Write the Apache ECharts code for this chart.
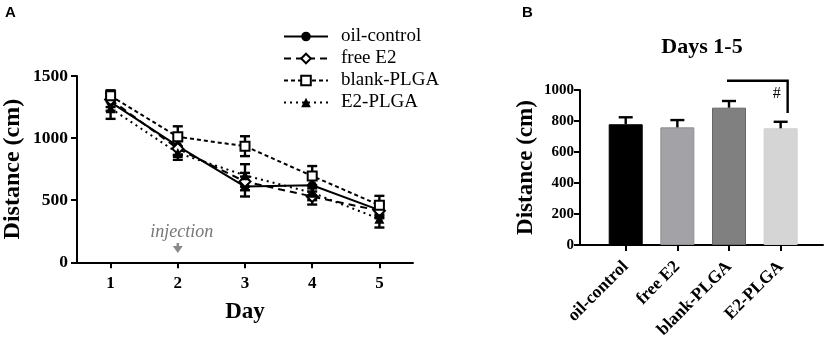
<!DOCTYPE html>
<html><head><meta charset="utf-8">
<script src="https://cdn.jsdelivr.net/npm/echarts@6/dist/echarts.min.js"></script>
<style>html,body{margin:0;padding:0;background:#fff}#c{width:829px;height:342px}</style>
</head><body><div id="c"></div>
<script>
// ---- Panel A data ----
const days = ['1', '2', '3', '4', '5'];
const seriesNames = ['oil-control', 'free E2', 'blank-PLGA', 'E2-PLGA'];
const oilMean = [1290, 935, 610, 620, 420];
const oilErr = [70, 70, 80, 50, 50];
const freeMean = [1310, 915, 650, 530, 415];
const freeErr = [60, 60, 70, 65, 60];
const blankMean = [1340, 1010, 935, 695, 460];
const blankErr = [45, 85, 80, 80, 75];
const e2Mean = [1240, 880, 700, 560, 350];
const e2Err = [85, 55, 90, 60, 70];
const yTicksA = { min: 0, max: 1500, interval: 500 };
const injectionDay = '2';

// ---- Panel B data ----
const barCats = ['oil-control', 'free E2', 'blank-PLGA', 'E2-PLGA'];
const barMean = [779, 759, 886, 753];
const barErr = [45, 47, 43, 42];
const yTicksB = { min: 0, max: 1000, interval: 200 };
const sigPair = ['blank-PLGA', 'E2-PLGA'];
const sigLevels = [1060, 852];
const sigMarkLevel = 978;

const serif = '"Liberation Serif", "Times New Roman", serif';
const barColors = ['#000000', '#a3a3a7', '#808080', '#d5d5d5'];
const barBorders = ['#000000', '#8e8e92', '#666666', '#cfcfcf'];

const means = [oilMean, freeMean, blankMean, e2Mean];
const errs = [oilErr, freeErr, blankErr, e2Err];
const symbols = ['circle', 'diamond', 'rect', 'triangle'];
const symSizes = [9, 11, 9, 10];
const filled = [true, false, false, true];
const dashes = ['solid', [7, 5], [4, 3], [2, 4]];

const barPos = barCats.map((c, i) => i + 1);

function errBarRender(capHalf, upOnly) {
  return function (params, api) {
    const x = api.value(0);
    const lo = api.coord([x, api.value(1)]);
    const hi = api.coord([x, api.value(2)]);
    const st = { stroke: '#000', lineWidth: 2.4 };
    const ch = [
      { type: 'line', shape: { x1: hi[0], y1: hi[1], x2: lo[0], y2: lo[1] }, style: st },
      { type: 'line', shape: { x1: hi[0] - capHalf, y1: hi[1], x2: hi[0] + capHalf, y2: hi[1] }, style: st }
    ];
    if (!upOnly) ch.push({ type: 'line', shape: { x1: lo[0] - capHalf, y1: lo[1], x2: lo[0] + capHalf, y2: lo[1] }, style: st });
    return { type: 'group', children: ch };
  };
}

const series = [];
means.forEach((m, i) => {
  series.push({
    type: 'custom', xAxisIndex: 0, yAxisIndex: 0, z: 1,
    renderItem: errBarRender(5, false),
    encode: { x: 0, y: [1, 2] },
    data: m.map((v, j) => [j, v - errs[i][j], v + errs[i][j]]),
    silent: true
  });
});
means.forEach((m, i) => {
  series.push({
    type: 'line', name: seriesNames[i], xAxisIndex: 0, yAxisIndex: 0, z: 3,
    data: m,
    symbol: symbols[i], symbolSize: symSizes[i],
    lineStyle: { color: '#000', width: 2, type: dashes[i] },
    itemStyle: { color: filled[i] ? '#000' : '#fff', borderColor: '#000', borderWidth: filled[i] ? 0 : 2 },
    animation: false
  });
});
// injection annotation
series.push({
  type: 'custom', xAxisIndex: 0, yAxisIndex: 0, z: 4, silent: true,
  data: [[days.indexOf(injectionDay), 245, 155, 75]],
  renderItem: function (params, api) {
    const t = api.coord([api.value(0), api.value(1)]);
    const a1 = api.coord([api.value(0), api.value(2)]);
    const a2 = api.coord([api.value(0), api.value(3)]);
    return {
      type: 'group', children: [
        { type: 'text', style: { x: t[0] + 4, y: t[1], text: 'injection', font: 'italic 18px ' + serif, fill: '#777', align: 'center', verticalAlign: 'middle' } },
        { type: 'line', shape: { x1: a1[0], y1: a1[1], x2: a2[0], y2: a2[1] - 5 }, style: { stroke: '#888', lineWidth: 2.5 } },
        { type: 'polygon', shape: { points: [[a2[0] - 5, a2[1] - 7], [a2[0] + 5, a2[1] - 7], [a2[0], a2[1]]] }, style: { fill: '#888' } }
      ]
    };
  }
});
// bars
series.push({
  type: 'bar', xAxisIndex: 1, yAxisIndex: 1, barWidth: 34, z: 2,
  data: barCats.map((c, k) => ({ value: [barPos[k], barMean[k]], itemStyle: { color: barColors[k], borderColor: barBorders[k], borderWidth: 1 } })),
  animation: false
});
series.push({
  type: 'custom', xAxisIndex: 1, yAxisIndex: 1, z: 3, silent: true,
  renderItem: errBarRender(7, true),
  encode: { x: 0, y: [1, 2] },
  data: barCats.map((c, k) => [barPos[k], barMean[k], barMean[k] + barErr[k]])
});
// significance bracket
series.push({
  type: 'custom', xAxisIndex: 1, yAxisIndex: 1, z: 4, silent: true, clip: false,
  data: [[barPos[barCats.indexOf(sigPair[0])], barPos[barCats.indexOf(sigPair[1])], sigLevels[0], sigLevels[1], sigMarkLevel]],
  renderItem: function (params, api) {
    const p1 = api.coord([api.value(0), api.value(2)]);
    const p2 = api.coord([api.value(1), api.value(2)]);
    const p3 = api.coord([api.value(1), api.value(3)]);
    const pm = api.coord([api.value(1), api.value(4)]);
    const xr = p2[0] + 7;
    const st = { stroke: '#000', lineWidth: 2.4 };
    return {
      type: 'group', children: [
        { type: 'polyline', shape: { points: [[p1[0] - 2, p1[1]], [xr, p2[1]], [xr, p3[1]]] }, style: Object.assign({ fill: null }, st) },
        { type: 'text', style: { x: pm[0] - 4, y: pm[1], text: '#', font: '16px ' + serif, fill: '#000', align: 'center', verticalAlign: 'middle' } }
      ]
    };
  }
});

const lineCommon = { show: true, lineStyle: { color: '#000', width: 2 } };

const option = {
  backgroundColor: '#fff',
  animation: false,
  title: [
    { text: 'A', left: 5, top: 5, padding: 0, textStyle: { fontFamily: 'Liberation Sans, Arial, sans-serif', fontWeight: 'bold', fontSize: 15, color: '#000' } },
    { text: 'B', left: 522, top: 5, padding: 0, textStyle: { fontFamily: 'Liberation Sans, Arial, sans-serif', fontWeight: 'bold', fontSize: 15, color: '#000' } },
    { text: 'Days 1-5', left: 702, top: 36, padding: 0, textAlign: 'center', textStyle: { fontFamily: serif, fontWeight: 'bold', fontSize: 22, color: '#000' } }
  ],
  legend: {
    data: seriesNames,
    orient: 'vertical', left: 283, top: 27, padding: 0,
    itemWidth: 44, itemHeight: 12, itemGap: 3,
    textStyle: { fontFamily: serif, fontSize: 19, color: '#000', padding: [0, 0, 0, 8] }
  },
  grid: [
    { left: 77, top: 76, width: 336, height: 186.3 },
    { left: 580, top: 90, width: 243, height: 155 }
  ],
  xAxis: [
    {
      gridIndex: 0, type: 'category', data: days, boundaryGap: true,
      axisLine: lineCommon,
      axisTick: { show: true, alignWithLabel: true, length: 6, lineStyle: { color: '#000', width: 2 } },
      axisLabel: { color: '#000', fontFamily: serif, fontWeight: 'bold', fontSize: 17, margin: 13 },
      splitLine: { show: false },
      name: 'Day', nameLocation: 'middle', nameGap: 38,
      nameTextStyle: { fontFamily: serif, fontWeight: 'bold', fontSize: 23, color: '#000' }
    },
    {
      gridIndex: 1, type: 'value', min: 0.115, max: 4.82,
      axisLine: lineCommon,
      axisTick: { show: true, length: 6, customValues: barPos, lineStyle: { color: '#000', width: 2 } },
      axisLabel: {
        customValues: barPos, rotate: 45, margin: 19,
        color: '#000', fontFamily: serif, fontWeight: 'bold', fontSize: 17.5,
        formatter: v => barCats[barPos.indexOf(Math.round(v))] || ''
      },
      splitLine: { show: false }
    }
  ],
  yAxis: [
    {
      gridIndex: 0, type: 'value', min: yTicksA.min, max: yTicksA.max, interval: yTicksA.interval,
      axisLine: lineCommon,
      axisTick: { show: true, length: 6, lineStyle: { color: '#000', width: 2 } },
      axisLabel: { color: '#000', fontFamily: serif, fontWeight: 'bold', fontSize: 17.5, margin: 9, formatter: v => String(v) },
      splitLine: { show: false },
      name: 'Distance (cm)', nameLocation: 'middle', nameGap: 52,
      nameTextStyle: { fontFamily: serif, fontWeight: 'bold', fontSize: 24, color: '#000' }
    },
    {
      gridIndex: 1, type: 'value', min: yTicksB.min, max: yTicksB.max, interval: yTicksB.interval,
      axisLine: lineCommon,
      axisTick: { show: true, length: 6, lineStyle: { color: '#000', width: 2 } },
      axisLabel: { color: '#000', fontFamily: serif, fontWeight: 'bold', fontSize: 15, margin: 6, formatter: v => String(v) },
      splitLine: { show: false },
      name: 'Distance (cm)', nameLocation: 'middle', nameGap: 42,
      nameTextStyle: { fontFamily: serif, fontWeight: 'bold', fontSize: 23, color: '#000' }
    }
  ],
  series: series
};

const chart = echarts.init(document.getElementById('c'), null, { renderer: 'canvas' });
chart.setOption(option);
</script>
</body></html>
